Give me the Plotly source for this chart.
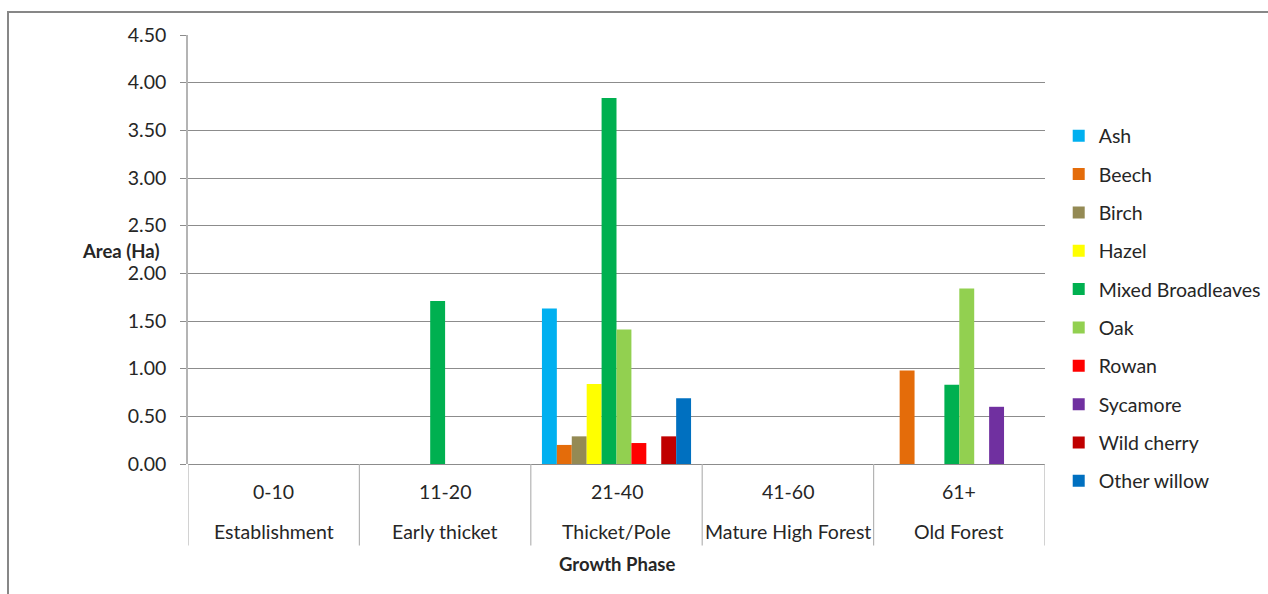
import plotly.graph_objects as go

# Growth phases (age band + phase name) along the x axis
age_bands = ["0-10", "11-20", "21-40", "41-60", "61+"]
phases = ["Establishment", "Early thicket", "Thicket/Pole", "Mature High Forest", "Old Forest"]

# Area (Ha) of each species in each growth phase
species = ["Ash", "Beech", "Birch", "Hazel", "Mixed Broadleaves",
           "Oak", "Rowan", "Sycamore", "Wild cherry", "Other willow"]
ash = [0, 0, 1.63, 0, 0]
beech = [0, 0, 0.20, 0, 0.98]
birch = [0, 0, 0.29, 0, 0]
hazel = [0, 0, 0.84, 0, 0]
mixed_broadleaves = [0, 1.71, 3.84, 0, 0.83]
oak = [0, 0, 1.41, 0, 1.84]
rowan = [0, 0, 0.22, 0, 0]
sycamore = [0, 0, 0, 0, 0.60]
wild_cherry = [0, 0, 0.29, 0, 0]
other_willow = [0, 0, 0.69, 0, 0]

y_ticks = [0, 0.5, 1.0, 1.5, 2.0, 2.5, 3.0, 3.5, 4.0, 4.5]

series = [ash, beech, birch, hazel, mixed_broadleaves, oak, rowan,
          sycamore, wild_cherry, other_willow]
colors = ["#00B0F0", "#E46C0A", "#948A54", "#FFFF00", "#00B050",
          "#92D050", "#FF0000", "#7030A0", "#C00000", "#0070C0"]

FONT = "Lato"
FS = 19.5
TEXT = "#262626"
GRID = "#8C8C8C"
LIGHT = "#B4B4B4"

x_pos = list(range(len(age_bands)))

fig = go.Figure()
for name, vals, col in zip(species, series, colors):
    fig.add_trace(go.Bar(
        name=name, x=x_pos, y=vals, marker_color=col,
        marker_line_width=0, legendgroup=name,
    ))

fig.update_layout(
    width=1268, height=594,
    margin=dict(l=188, r=223, t=35, b=130, autoexpand=False),
    paper_bgcolor="white", plot_bgcolor="white",
    barmode="group", bargap=0.13, bargroupgap=0,
    font=dict(family=FONT, size=FS, color=TEXT),
    showlegend=True,
    legend=dict(
        x=1.016, y=0.81, xanchor="left", yanchor="top",
        font=dict(family=FONT, size=FS, color=TEXT),
        tracegroupgap=10, itemwidth=30,
    ),
    xaxis=dict(
        range=[-0.5, 4.5], showticklabels=False, showgrid=False,
        zeroline=False, showline=False, ticks="",
    ),
    yaxis=dict(
        range=[0, 4.5], tickvals=y_ticks,
        ticktext=[f"{v:.2f}" for v in y_ticks],
        showgrid=True, gridcolor=GRID, gridwidth=1,
        zeroline=True, zerolinecolor=GRID, zerolinewidth=1,
        showline=True, linecolor=LIGHT, linewidth=1.5,
        ticks="outside", ticklen=6, tickcolor=GRID,
        ticklabelstandoff=10,
        tickfont=dict(family=FONT, size=FS, color=TEXT),
    ),
)

# Table-style category dividers beneath the axis
for b in [i - 0.5 for i in range(len(age_bands) + 1)]:
    fig.add_shape(type="line", xref="x", yref="paper",
                  x0=b, x1=b, y0=0, y1=-0.19,
                  line=dict(color=LIGHT, width=1.2))

# Two rows of category labels
for i, (band, phase) in enumerate(zip(age_bands, phases)):
    fig.add_annotation(x=i, y=-0.065, xref="x", yref="paper",
                       yanchor="middle", text=band, showarrow=False,
                       font=dict(family=FONT, size=FS, color=TEXT))
    fig.add_annotation(x=i, y=-0.158, xref="x", yref="paper",
                       yanchor="middle", text=phase, showarrow=False,
                       font=dict(family=FONT, size=FS, color=TEXT))

# Axis titles
fig.add_annotation(x=0.5, y=-0.232, xref="paper", yref="paper",
                   yanchor="middle", text="<b>Growth Phase</b>", showarrow=False,
                   font=dict(family=FONT, size=FS - 1, color=TEXT))
fig.add_annotation(x=(80 - 188) / 857, y=(464 - 251) / 429,
                   xref="paper", yref="paper", yanchor="middle",
                   text="<b>Area (Ha)</b>", showarrow=False,
                   font=dict(family=FONT, size=FS - 1, color=TEXT))

# Chart frame
fig.add_shape(type="rect", xref="paper", yref="paper",
              x0=(8 - 188) / 857, x1=(1290 - 188) / 857,
              y0=-0.4, y1=(464 - 12) / 429,
              line=dict(color="#878787", width=2), layer="below")

fig.write_html("out.html")
